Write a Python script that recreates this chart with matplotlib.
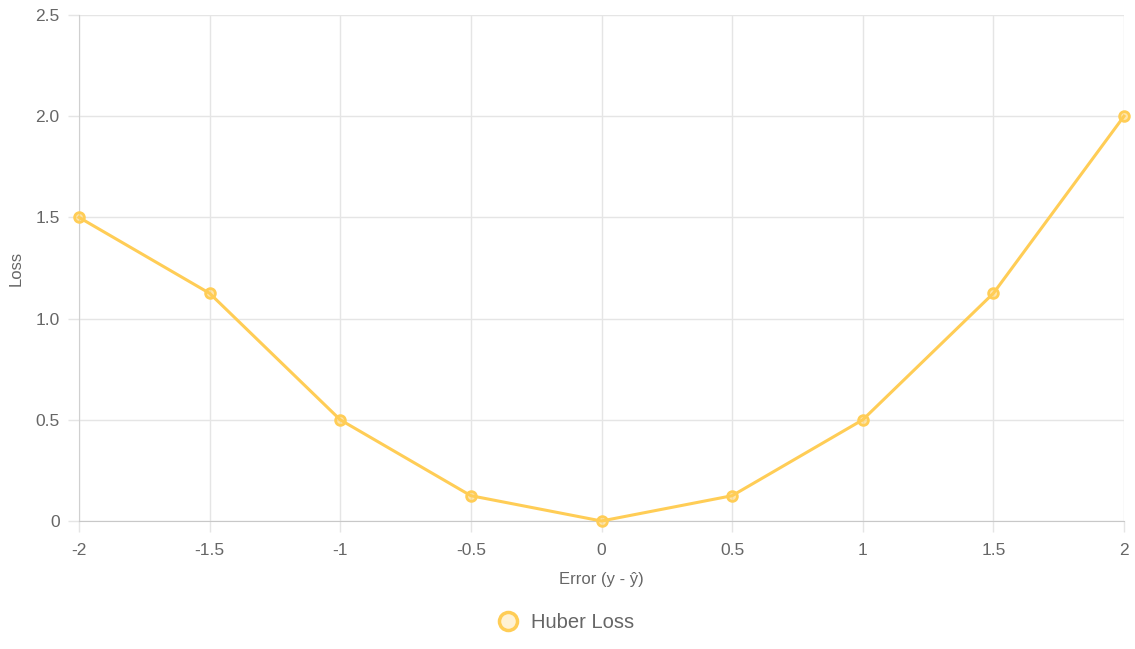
import matplotlib.pyplot as plt
import matplotlib.lines as mlines

# data
errors = [-2, -1.5, -1, -0.5, 0, 0.5, 1, 1.5, 2]
x_labels = ['-2', '-1.5', '-1', '-0.5', '0', '0.5', '1', '1.5', '2']
loss = [1.5, 1.125, 0.5, 0.125, 0, 0.125, 0.5, 1.125, 2.0]
y_ticks = [0, 0.5, 1.0, 1.5, 2.0, 2.5]
y_labels = ['0', '0.5', '1.0', '1.5', '2.0', '2.5']

plt.rcParams['font.family'] = ['Liberation Sans', 'DejaVu Sans']

line_color = '#ffcd56'
fill_color = (1.0, 0.804, 0.337, 0.5)
grid_color = '#e5e5e5'
text_color = '#666666'

fig = plt.figure(figsize=(11.35, 6.49), dpi=100)
ax = fig.add_axes([79 / 1135, 1 - 521 / 649, (1124 - 79) / 1135, (521 - 15) / 649])

ax.plot(errors, loss, color=line_color, linewidth=2.2, marker='o', markersize=7,
        markerfacecolor=fill_color, markeredgecolor=line_color, markeredgewidth=2,
        zorder=3, clip_on=False)

ax.set_xlim(-2, 2)
ax.set_ylim(0, 2.5)
ax.set_xticks(errors)
ax.set_xticklabels(x_labels)
ax.set_yticks(y_ticks)
ax.set_yticklabels(y_labels)

ax.grid(True, color=grid_color, linewidth=1)
ax.tick_params(axis='both', colors=grid_color, labelcolor=text_color, labelsize=12.5,
               length=8, width=1)
ax.tick_params(axis='x', pad=8)
ax.tick_params(axis='y', pad=6)
for side in ['top', 'right']:
    ax.spines[side].set_visible(False)
ax.spines['left'].set_color('#d0d0d0')
ax.spines['bottom'].set_color('#c8c8c8')

ax.set_xlabel('Error (y - ŷ)', color=text_color, fontsize=12, labelpad=10)
ax.set_ylabel('Loss', color=text_color, fontsize=12, labelpad=8)

handle = mlines.Line2D([], [], linestyle='none', marker='o', markersize=13,
                       markerfacecolor=(1.0, 0.804, 0.337, 0.25),
                       markeredgecolor=line_color, markeredgewidth=2.5)
fig.legend([handle], ['Huber Loss'], loc='center', bbox_to_anchor=(565 / 1135, 1 - 623 / 649),
           frameon=False, fontsize=14.5, labelcolor=text_color, handletextpad=0.5,
           handlelength=1.2)

fig.savefig('out.png', dpi=100)
